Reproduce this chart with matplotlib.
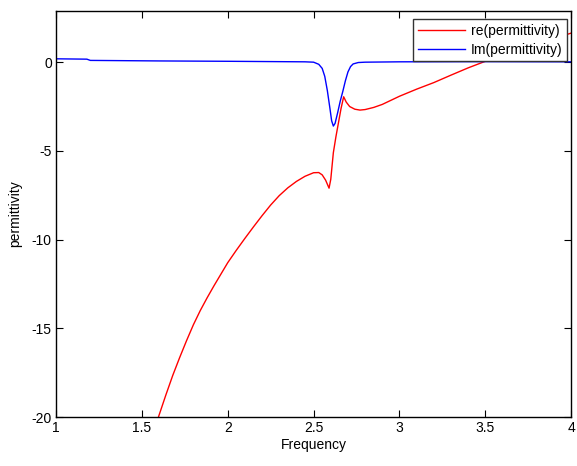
import numpy as np
import matplotlib.pyplot as plt
from matplotlib import rc
rc('font', **{'family': 'sans-serif', 'sans-serif': ['Liberation Sans', 'DejaVu Sans']})
rc('axes', unicode_minus=False)

# values
freq_re = [1.59, 1.60, 1.64, 1.68, 1.72, 1.76, 1.80, 1.84, 1.88, 1.92, 1.96,
           2.0, 2.05, 2.1, 2.15, 2.2, 2.25, 2.3, 2.35, 2.4, 2.45, 2.5, 2.53,
           2.55, 2.57, 2.59, 2.6, 2.615, 2.63, 2.645, 2.66, 2.675, 2.69, 2.71,
           2.74, 2.77, 2.8, 2.85, 2.9, 2.95, 3.0, 3.1, 3.2, 3.3, 3.4, 3.5,
           3.6, 3.7, 3.8, 3.9, 4.0]
eps_re = [-20.2, -19.9, -18.75, -17.65, -16.65, -15.7, -14.8, -14.0, -13.28, -12.6, -11.95,
          -11.3, -10.6, -9.93, -9.28, -8.65, -8.05, -7.52, -7.08, -6.72, -6.43, -6.23, -6.22,
          -6.35, -6.65, -7.1, -6.6, -5.1, -4.2, -3.4, -2.6, -1.95, -2.25, -2.5,
          -2.65, -2.7, -2.67, -2.55, -2.38, -2.15, -1.92, -1.52, -1.15, -0.73, -0.32, 0.05,
          0.42, 0.72, 1.02, 1.33, 1.64]

freq_im = [1.0, 1.18, 1.2, 1.6, 2.0, 2.45, 2.5, 2.53, 2.55, 2.565, 2.58, 2.595,
           2.605, 2.615, 2.625, 2.64, 2.655, 2.67, 2.685, 2.7, 2.715, 2.73, 2.76,
           2.8, 3.0, 3.5, 4.0]
eps_im = [0.19, 0.17, 0.1, 0.07, 0.05, 0.02, 0.0, -0.12, -0.35, -0.8, -1.6, -2.6,
          -3.3, -3.6, -3.45, -2.85, -2.2, -1.65, -1.05, -0.55, -0.25, -0.1, -0.02,
          0.0, 0.02, 0.03, 0.02]

fig = plt.figure(figsize=(5.77, 4.66), dpi=100)
ax = fig.add_axes([0.097, 0.105, 0.893, 0.872])

ax.plot(freq_re, eps_re, color='red', lw=1, label='re(permittivity)')
ax.plot(freq_im, eps_im, color='blue', lw=1, label='Im(permittivity)')

ax.set_xlim(1, 4)
ax.set_ylim(-20, 2.9)
ax.set_xticks([1, 1.5, 2, 2.5, 3, 3.5, 4])
ax.set_xticklabels(['1', '1.5', '2', '2.5', '3', '3.5', '4'])
ax.set_yticks([-20, -15, -10, -5, 0])
ax.tick_params(direction='in', length=5, top=True, right=True, labelsize=10, pad=3)
for s in ax.spines.values():
    s.set_linewidth(1)

ax.set_xlabel('Frequency', fontsize=10, labelpad=2)
ax.set_ylabel('permittivity', fontsize=10, labelpad=7)

leg = ax.legend(loc='upper right', bbox_to_anchor=(0.992, 0.98), borderaxespad=0,
                fancybox=False, framealpha=1, edgecolor='#333333', fontsize=10,
                handlelength=3.4, handletextpad=0.4, borderpad=0.35, labelspacing=0.35)
leg.get_frame().set_linewidth(1)

fig.savefig('out.png', dpi=100)
